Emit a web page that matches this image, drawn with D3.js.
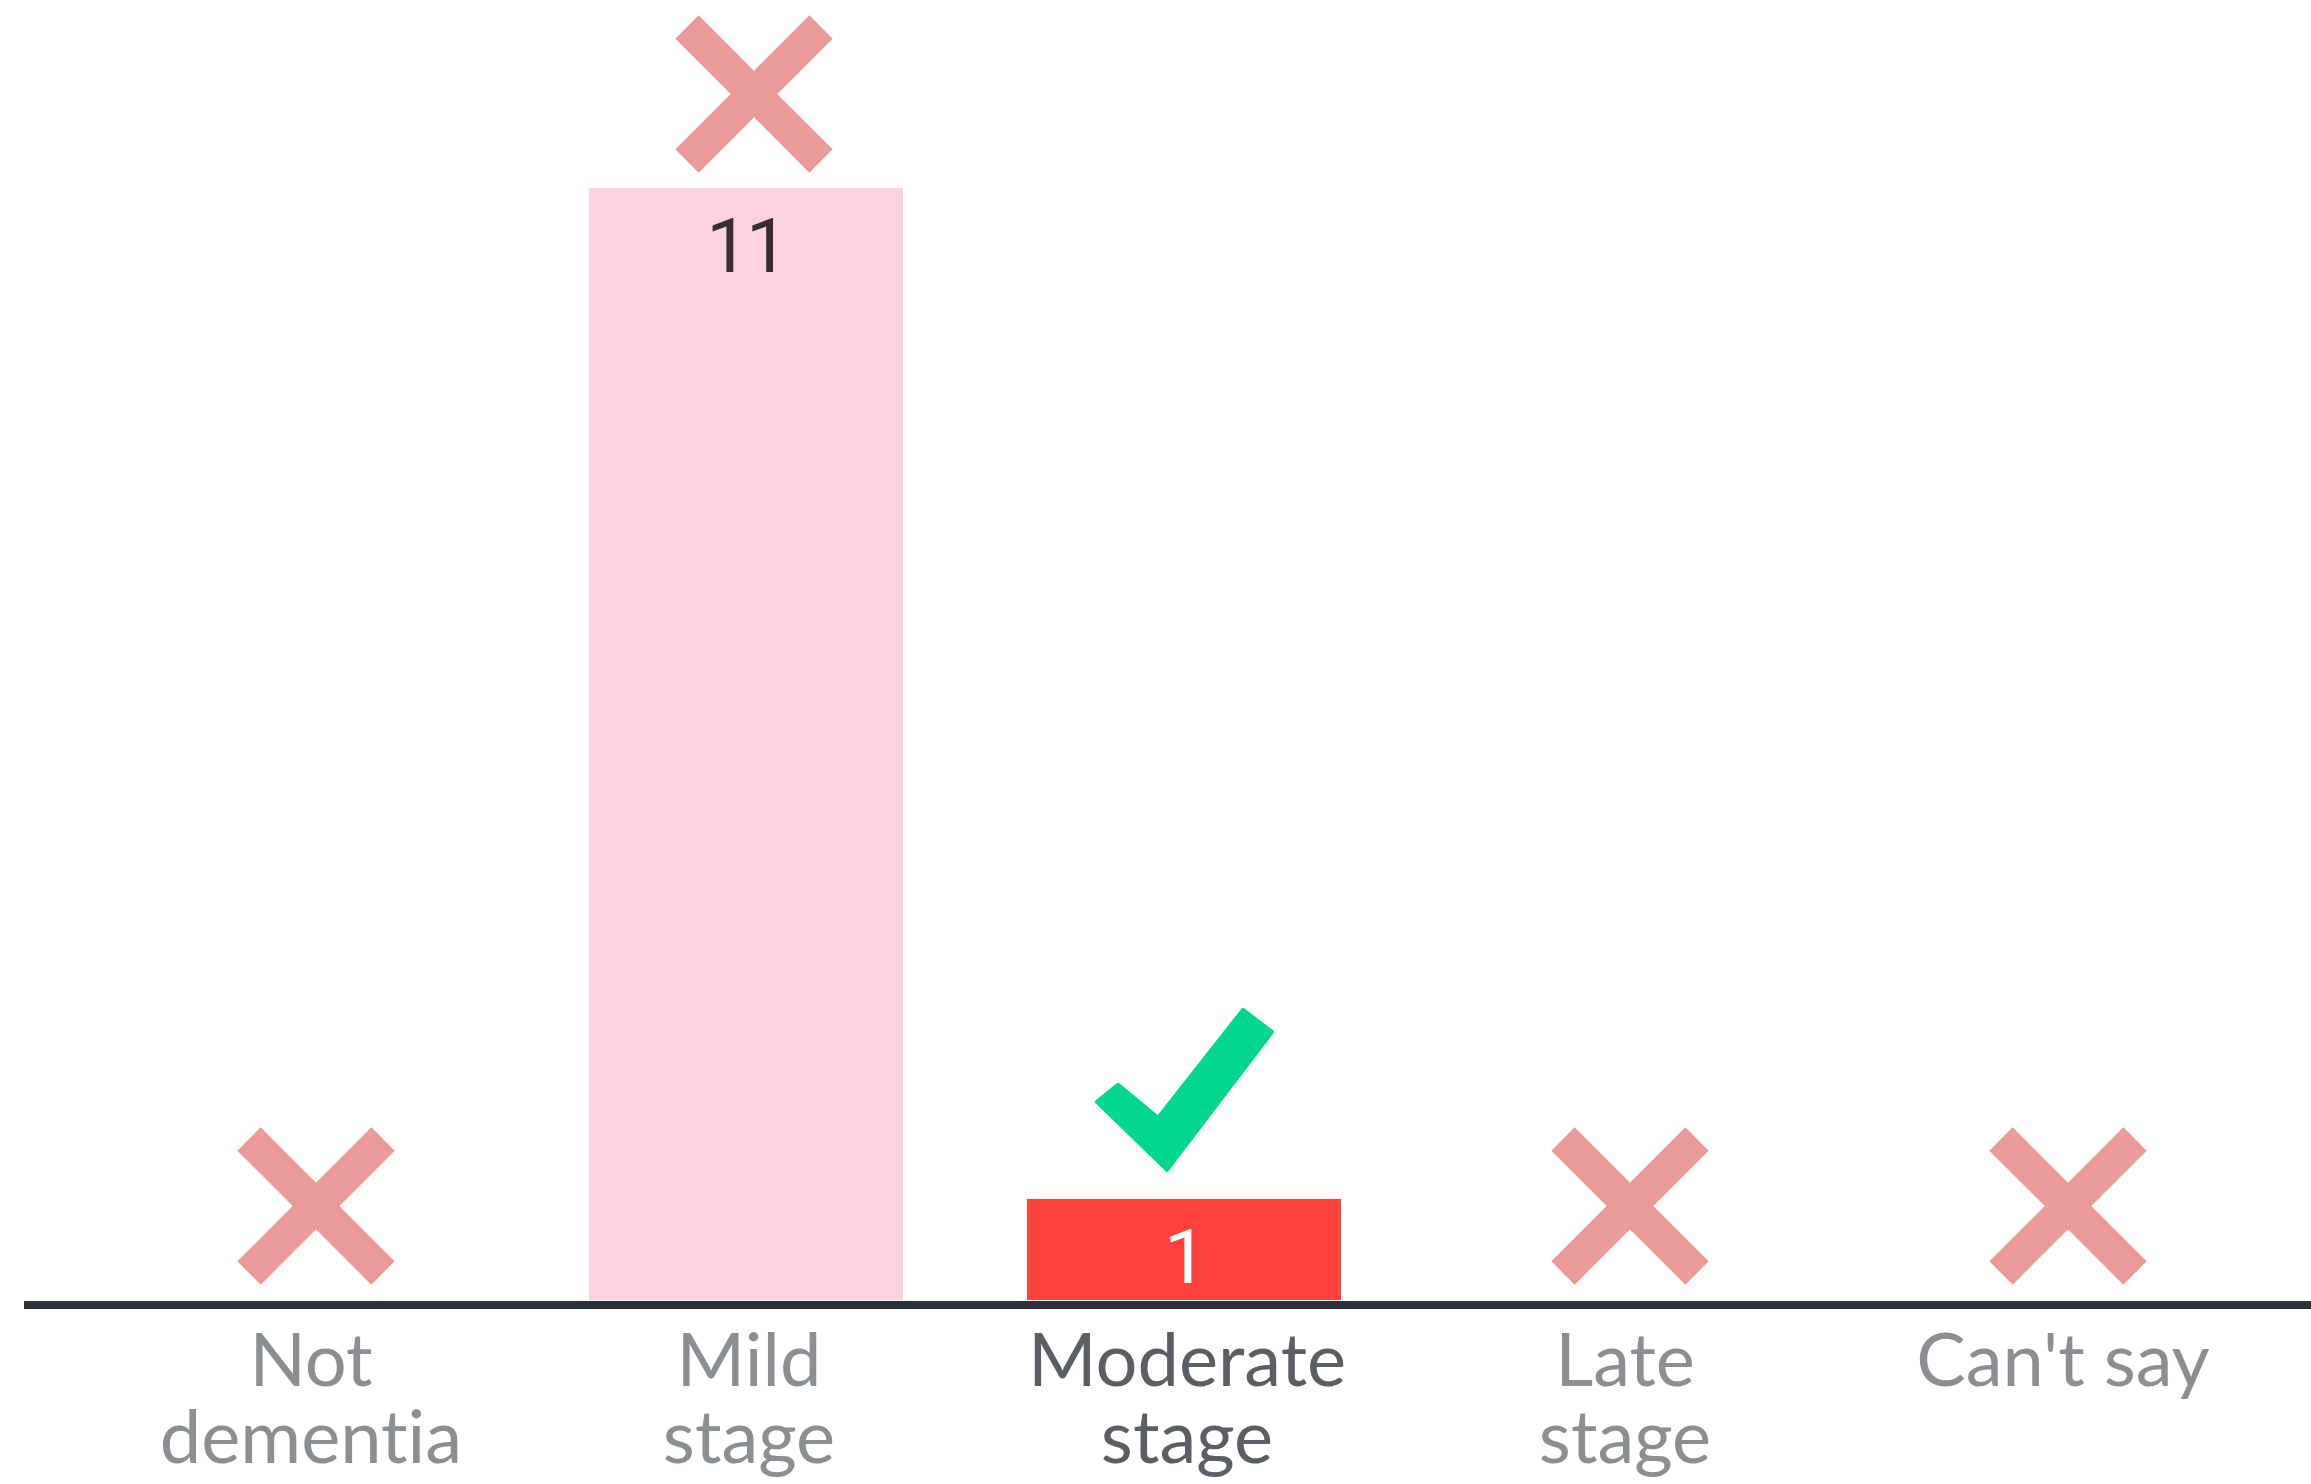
<!DOCTYPE html>
<html>
<head>
<meta charset="utf-8">
<script src="https://cdn.jsdelivr.net/npm/d3@7"></script>
<style>
  html, body { margin: 0; padding: 0; background: #ffffff; }
  svg { display: block; }
  .val { font-family: Roboto, Arimo, Arial, Helvetica, sans-serif; letter-spacing: -3px; }
  .lbl { font-family: Lato, "Open Sans", Roboto, sans-serif; font-variant-ligatures: none; font-feature-settings: "liga" 0, "clig" 0; }
</style>
</head>
<body>
<svg id="chart" width="2311" height="1484"></svg>
<script>
// ---- data ----
const categories = ["Not dementia", "Mild stage", "Moderate stage", "Late stage", "Can't say"];
const categoryLines = [["Not", "dementia"], ["Mild", "stage"], ["Moderate", "stage"], ["Late", "stage"], ["Can't say"]];
const values = [0, 11, 1, 0, 0];
const correctAnswers = ["Moderate stage"];

// ---- layout ----
const W = 2311, H = 1484;
const svg = d3.select("#chart");

const x = d3.scaleBand()
  .domain(categories)
  .range([151, 2217])
  .paddingInner(124 / 438)
  .paddingOuter(0);

const y = d3.scaleLinear()
  .domain([0, 11])
  .range([1300, 188]);

const data = categories.map((c, i) => ({
  cat: c, value: values[i], lines: categoryLines[i], correct: correctAnswers.includes(c)
}));

// bars
svg.append("g").selectAll("rect")
  .data(data.filter(d => d.value > 0))
  .join("rect")
  .attr("x", d => x(d.cat))
  .attr("y", d => y(d.value))
  .attr("width", x.bandwidth())
  .attr("height", d => y(0) - y(d.value))
  .attr("fill", d => d.correct ? "#ff423e" : "#fcd2e1");

// value labels
svg.append("g").selectAll("text")
  .data(data.filter(d => d.value > 0))
  .join("text")
  .attr("class", "val")
  .attr("x", d => x(d.cat) + x.bandwidth() / 2)
  .attr("y", d => y(d.value) + 84)
  .attr("text-anchor", "middle")
  .style("font-size", "76px")
  .attr("fill", d => d.correct ? "#ffffff" : "#3a2c34")
  .text(d => d.value);

// baseline
svg.append("line")
  .attr("x1", 24).attr("x2", W)
  .attr("y1", y(0) + 5).attr("y2", y(0) + 5)
  .attr("stroke", "#2b303b")
  .attr("stroke-width", 8);

// markers: X for wrong, check for correct
const marks = svg.append("g");
data.forEach(d => {
  const cx = x(d.cat) + x.bandwidth() / 2;
  const top = y(d.value);
  if (d.correct) {
    const pts = [[-66, -114], [-26, -81], [59, -189], [88, -167], [-17, -29], [-87, -97]]
      .map(([dx, dy]) => [cx + dx, top + dy]);
    marks.append("path")
      .attr("d", d3.line()(pts) + "Z")
      .attr("fill", "#03d68f")
      .attr("stroke", "#03d68f")
      .attr("stroke-width", 4)
      .attr("stroke-linejoin", "round");
  } else {
    const mx = cx + 8, my = top - 94, r = 67;
    marks.append("path")
      .attr("d", `M${mx - r},${my - r}L${mx + r},${my + r}M${mx + r},${my - r}L${mx - r},${my + r}`)
      .attr("fill", "none")
      .attr("stroke", "#eb9a9a")
      .attr("stroke-width", 33)
      .attr("stroke-linecap", "butt");
  }
});

// x axis labels
const axis = d3.axisBottom(x).tickSize(0).tickPadding(0);
const gAxis = svg.append("g")
  .attr("transform", `translate(0, ${y(0)})`)
  .call(axis);
gAxis.attr("font-family", null).attr("font-size", null);
gAxis.select(".domain").remove();
gAxis.selectAll(".tick text").each(function(cat, i) {
  const d = data[i];
  const t = d3.select(this);
  t.text(null)
    .attr("class", "lbl")
    .attr("y", 0).attr("dy", null)
    .style("font-size", "74px")
    .attr("fill", d.correct ? "#5b5e65" : "#8b8e93")
    .attr("text-anchor", "middle");
  d.lines.forEach((ln, j) => {
    t.append("tspan").attr("x", 3).attr("y", 86 + j * 77).text(ln);
  });
});
</script>
</body>
</html>
